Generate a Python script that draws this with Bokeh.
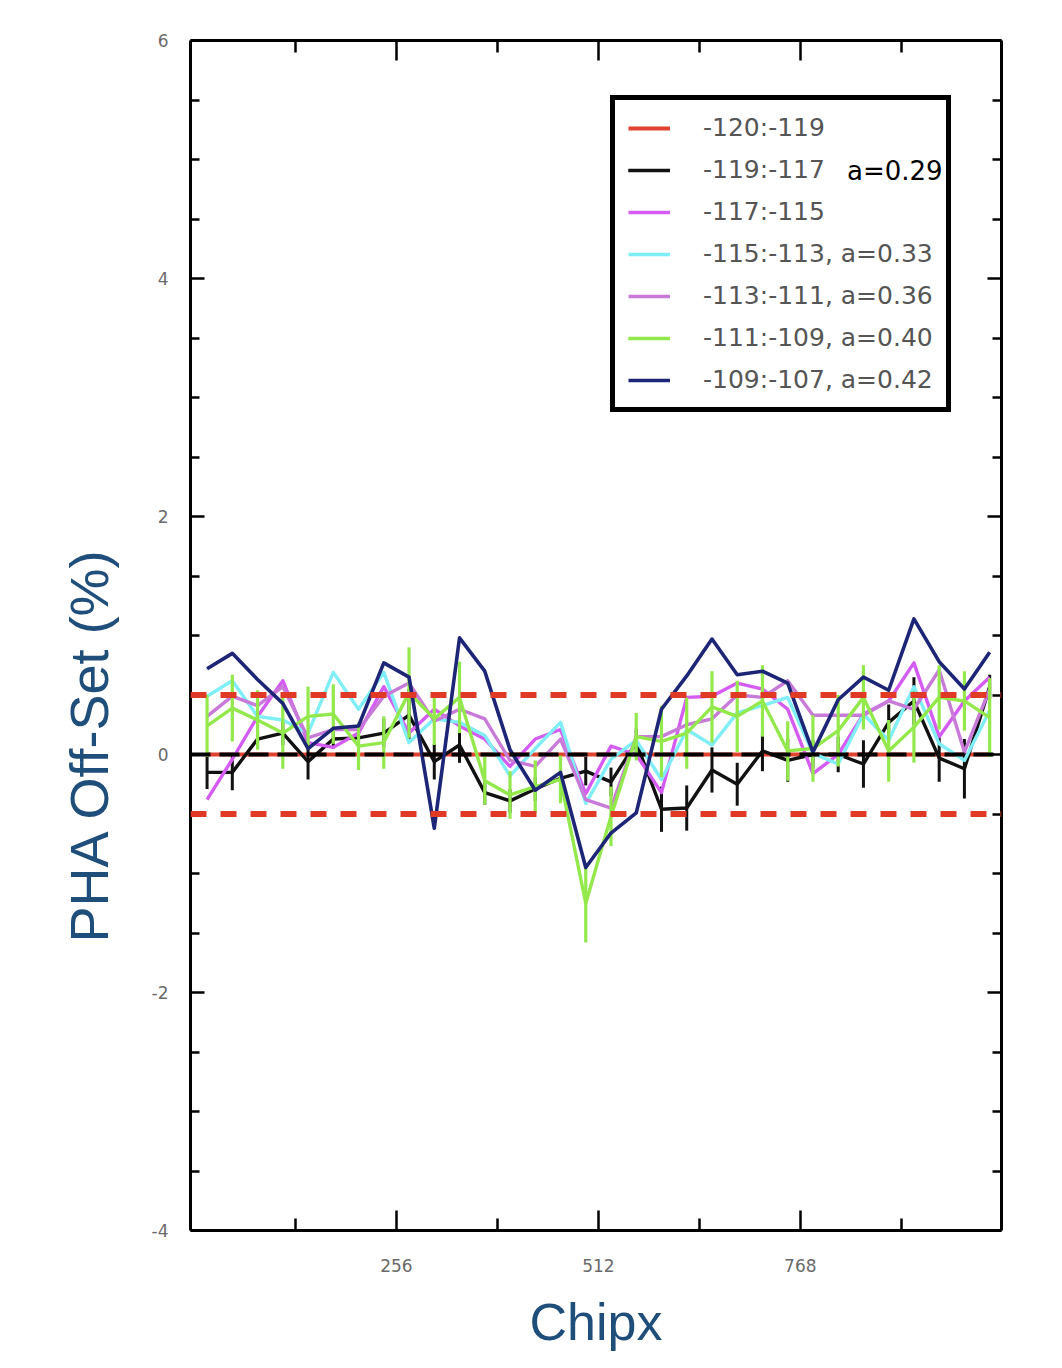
import numpy as np
from bokeh.plotting import figure
from bokeh.models import (Range1d, LinearAxis, FixedTicker, Span, Legend,
                          LegendItem, Title)
from bokeh.embed import file_html
from bokeh.resources import INLINE

# ---------------- data ----------------
chipx = [16, 48, 80, 112, 144, 176, 208, 240, 272, 304, 336, 368, 400, 432,
         464, 496, 528, 560, 592, 624, 656, 688, 720, 752, 784, 816, 848, 880,
         912, 944, 976, 1008]

red_ref = [0.0] * 32  # -120:-119 reference series (sits on zero)

black = [-0.15, -0.15, 0.13, 0.18, -0.06, 0.13, 0.14, 0.18, 0.33, -0.06,
         0.08, -0.32, -0.39, -0.29, -0.20, -0.14, -0.23, 0.10, -0.46, -0.45,
         -0.13, -0.25, 0.03, -0.05, 0.00, 0.00, -0.08, 0.27, 0.45, -0.03,
         -0.12, 0.57]
black_err = [0.14, 0.15, 0.08, 0.10, 0.15, 0.08, 0.08, 0.12, 0.22, 0.15,
             0.15, 0.10, 0.10, 0.10, 0.10, 0.12, 0.12, 0.12, 0.19, 0.19,
             0.19, 0.18, 0.17, 0.18, 0.12, 0.15, 0.20, 0.15, 0.20, 0.20,
             0.25, 0.10]

violet_a = [-0.38, -0.04, 0.32, 0.62, 0.10, 0.06, 0.18, 0.57, 0.18, 0.38,
            0.24, 0.13, -0.10, 0.13, 0.21, -0.33, 0.07, 0.00, -0.32, 0.48,
            0.49, 0.60, 0.55, 0.38, -0.16, 0.00, 0.34, 0.45, 0.77, 0.15,
            0.45, 0.65]

cyan = [0.49, 0.62, 0.32, 0.29, 0.18, 0.69, 0.38, 0.69, 0.10, 0.30, 0.27,
        0.16, -0.18, 0.05, 0.27, -0.41, -0.04, 0.12, -0.21, 0.21, 0.08, 0.35,
        0.41, 0.48, 0.01, -0.08, 0.34, 0.12, 0.57, 0.09, -0.05, 0.37]

violet_b = [0.32, 0.49, 0.41, 0.57, 0.14, 0.21, 0.21, 0.49, 0.60, 0.28,
            0.38, 0.30, -0.05, -0.10, 0.13, -0.38, -0.45, 0.15, 0.15, 0.25,
            0.30, 0.50, 0.48, 0.62, 0.33, 0.33, 0.33, 0.45, 0.38, 0.71, 0.02,
            0.55]

green = [0.24, 0.39, 0.29, 0.18, 0.32, 0.34, 0.07, 0.10, 0.52, 0.30, 0.48,
         -0.22, -0.34, -0.27, -0.21, -1.25, -0.52, 0.15, 0.11, 0.18, 0.40,
         0.32, 0.45, 0.03, 0.05, 0.20, 0.48, 0.03, 0.23, 0.48, 0.45, 0.31]
green_err = [0.26, 0.28, 0.25, 0.30, 0.25, 0.25, 0.20, 0.22, 0.38, 0.22,
             0.30, 0.20, 0.20, 0.22, 0.20, 0.33, 0.25, 0.20, 0.30, 0.30, 0.30,
             0.30, 0.30, 0.25, 0.28, 0.30, 0.27, 0.26, 0.30, 0.27, 0.25, 0.33]

navy = [0.72, 0.85, 0.63, 0.43, 0.05, 0.22, 0.24, 0.77, 0.65, -0.62, 0.98,
        0.70, 0.04, -0.30, -0.15, -0.95, -0.66, -0.49, 0.38, 0.66, 0.97,
        0.67, 0.70, 0.60, 0.02, 0.46, 0.65, 0.54, 1.14, 0.78, 0.55, 0.86]

labels = ["-120:-119", "-119:-117", "-117:-115", "-115:-113, a=0.33",
          "-113:-111, a=0.36", "-111:-109, a=0.40", "-109:-107, a=0.42"]
black_note = "a=0.29"
limit_level = 0.5

y_ticks = [-4, -2, 0, 2, 4, 6]
y_tick_text = ["-4", "-2", "0", "2", "4", "6"]
y_minor = [-3.5, -3, -2.5, -1.5, -1, -0.5, 0.5, 1, 1.5, 2.5, 3, 3.5, 4.5, 5, 5.5]
x_ticks = [256, 512, 768]
x_minor = [128, 384, 640, 896]

C_RED = "#e0432f"
C_BLACK = "#111111"
C_VA = "#d55cf2"
C_CYAN = "#80eef6"
C_VB = "#c77ad8"
C_GREEN = "#93e84c"
C_NAVY = "#1d2577"
C_TITLE = "#1f4e7a"

# ---------------- figure ----------------
p = figure(frame_width=811, frame_height=1190,
           x_range=Range1d(-5, 1023), y_range=Range1d(-4, 6),
           output_backend="svg", toolbar_location=None,
           min_border_left=190, min_border_right=40,
           min_border_top=40, min_border_bottom=120,
           background_fill_color="white", border_fill_color="white")
p.grid.visible = False
p.outline_line_color = None


def style_axis(ax, ticks, minor, major_len, minor_len, show_labels):
    ax.ticker = FixedTicker(ticks=ticks, minor_ticks=minor)
    ax.axis_line_color = "black"
    ax.axis_line_width = 3
    ax.major_tick_line_color = "black"
    ax.major_tick_line_width = 2.5
    ax.minor_tick_line_color = "black"
    ax.minor_tick_line_width = 2.5
    ax.major_tick_in = major_len
    ax.major_tick_out = 0
    ax.minor_tick_in = minor_len
    ax.minor_tick_out = 0
    ax.major_label_text_font = "DejaVu Sans"
    ax.major_label_text_font_size = "17px"
    ax.major_label_text_color = "#6a6a6a"
    if not show_labels:
        ax.major_label_overrides = {t: "" for t in ticks}


xb = p.xaxis[0]
style_axis(xb, x_ticks, x_minor, 20, 12, True)
xb.major_label_standoff = 28
xb.axis_label = "Chipx"
xb.axis_label_text_font = "Liberation Sans"
xb.axis_label_text_font_size = "52px"
xb.axis_label_text_font_style = "normal"
xb.axis_label_text_color = C_TITLE
xb.axis_label_standoff = 18

yl = p.yaxis[0]
style_axis(yl, y_ticks, y_minor, 14, 9, True)
yl.major_label_standoff = 22
yl.major_label_overrides = dict(zip(y_ticks, y_tick_text))

xt = LinearAxis()
style_axis(xt, x_ticks, x_minor, 20, 12, False)
p.add_layout(xt, "above")
yr = LinearAxis()
style_axis(yr, y_ticks, y_minor, 14, 9, False)
p.add_layout(yr, "right")

# y-axis title, placed lower than the frame centre as in the original
p.add_layout(Title(text="PHA Off-Set  (%)", align="left", offset=288,
                   vertical_align="top", standoff=56,
                   text_font="Liberation Sans", text_font_size="54px",
                   text_font_style="normal", text_color=C_TITLE), "left")

# ---------------- data glyphs ----------------
LW = 3.4
r_red = p.line(chipx, red_ref, line_color=C_RED, line_width=4)

r_blk = p.line(chipx, black, line_color=C_BLACK, line_width=LW, line_join="round")
r_blk_e = p.segment(x0=chipx, x1=chipx,
                    y0=[v - e for v, e in zip(black, black_err)],
                    y1=[v + e for v, e in zip(black, black_err)],
                    line_color=C_BLACK, line_width=3)

r_va = p.line(chipx, violet_a, line_color=C_VA, line_width=LW, line_join="round")
r_cy = p.line(chipx, cyan, line_color=C_CYAN, line_width=LW, line_join="round")
r_vb = p.line(chipx, violet_b, line_color=C_VB, line_width=LW, line_join="round")

r_gr = p.line(chipx, green, line_color=C_GREEN, line_width=LW, line_join="round")
r_gr_e = p.segment(x0=chipx, x1=chipx,
                   y0=[v - e for v, e in zip(green, green_err)],
                   y1=[v + e for v, e in zip(green, green_err)],
                   line_color=C_GREEN, line_width=3.2)

r_nv = p.line(chipx, navy, line_color=C_NAVY, line_width=3.6, line_join="round")

# zero line (black dashes over the red reference) and +-0.5 limits
p.add_layout(Span(location=0, dimension="width", line_color="black",
                  line_width=4, line_dash="20 9"))
for lvl in (limit_level, -limit_level):
    p.add_layout(Span(location=lvl, dimension="width", line_color="#e03a27",
                      line_width=6, line_dash="16 14"))

# ---------------- legend ----------------
items = [
    LegendItem(label=labels[0], renderers=[r_red]),
    LegendItem(label=labels[1], renderers=[r_blk, r_blk_e]),
    LegendItem(label=labels[2], renderers=[r_va]),
    LegendItem(label=labels[3], renderers=[r_cy]),
    LegendItem(label=labels[4], renderers=[r_vb]),
    LegendItem(label=labels[5], renderers=[r_gr, r_gr_e]),
    LegendItem(label=labels[6], renderers=[r_nv]),
]
legend = Legend(items=items, location=(420, 818),
                label_text_font="DejaVu Sans", label_text_font_size="25px",
                label_text_color="#555555",
                glyph_width=42, glyph_height=20, label_standoff=33,
                padding=13, spacing=13, margin=0,
                border_line_color="black", border_line_width=5,
                border_line_alpha=1.0,
                background_fill_color="white", background_fill_alpha=1.0)
p.add_layout(legend)

# black note next to the -119:-117 entry
note = Legend(items=[LegendItem(label=black_note, renderers=[r_blk])],
              location=(657, 1044),
              label_text_font="DejaVu Sans", label_text_font_size="26px",
              label_text_color="black",
              glyph_width=0, glyph_height=20, label_standoff=0,
              padding=0, spacing=0, margin=0,
              border_line_alpha=0.0, background_fill_alpha=0.0)
p.add_layout(note)

open("out.html", "w").write(file_html(p, INLINE))
